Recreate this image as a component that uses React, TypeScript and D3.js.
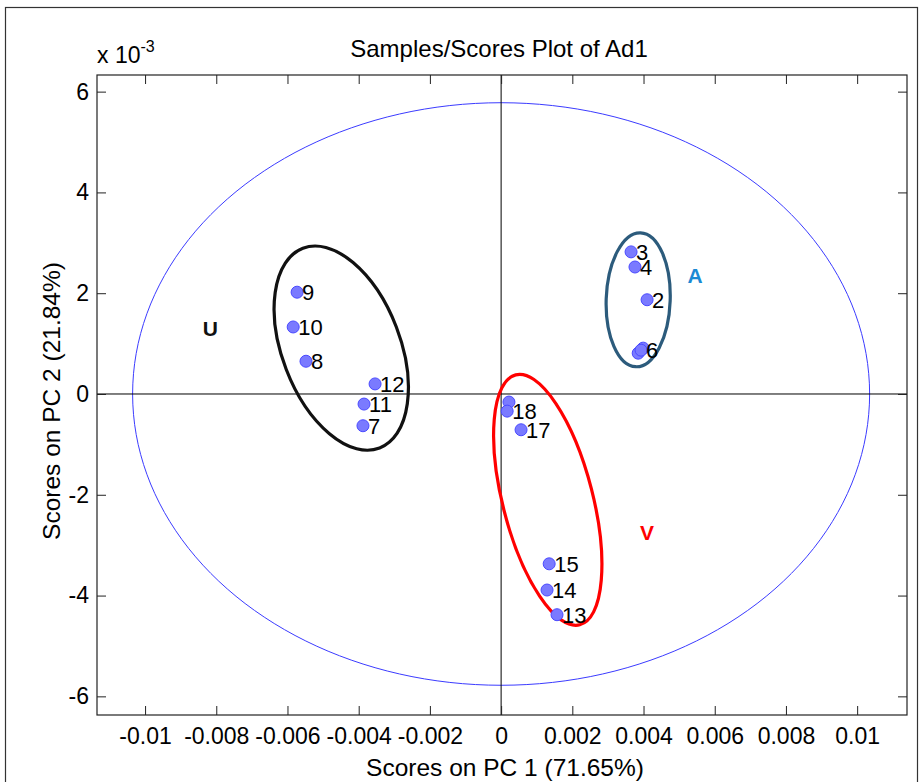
import React, { useRef, useEffect } from 'react';
import * as d3 from 'd3';

// scores (PC2 in units of 1e-3)
const sampleIds = ['1', '2', '3', '4', '5', '6', '7', '8', '9', '10', '11', '12', '13', '14', '15', '16', '17', '18'];
const pc1 = [0.00399, 0.0041, 0.00365, 0.00376, 0.00385, 0.00393, -0.00388, -0.00548, -0.00573, -0.00584, -0.00385, -0.00354, 0.00157, 0.00129, 0.00135, 0.00022, 0.00056, 0.00017];
const pc2 = [0.91, 1.87, 2.82, 2.52, 0.81, 0.87, -0.63, 0.65, 2.02, 1.33, -0.2, 0.2, -4.38, -3.89, -3.37, -0.16, -0.71, -0.34];
// labels hidden under other samples in the original
const showLabel = [false, true, true, true, false, true, true, true, true, true, true, true, true, true, true, false, true, true];

const xTicks = [-0.01, -0.008, -0.006, -0.004, -0.002, 0, 0.002, 0.004, 0.006, 0.008, 0.01];
const yTicks = [-6, -4, -2, 0, 2, 4, 6];

// 95% limit ellipse
const limitRx = 0.01035;
const limitRy = 5.78;

// class groups drawn by hand
const groupNames = ['U', 'A', 'V'];
const groupCx = [-0.00449, 0.00385, 0.00131];
const groupCy = [0.91, 1.87, -2.1];
const groupLabelX = [-0.00817, 0.00545, 0.0041];
const groupLabelY = [1.31, 2.36, -2.74];

const W = 920;
const H = 782;
const FONT = 'Arial, "Liberation Sans", sans-serif';

const App = () => {
  const ref = useRef<SVGSVGElement>(null);

  useEffect(() => {
    const svg = d3.select(ref.current);
    svg.selectAll('*').remove();

    const left = 97, right = 907, top = 75, bottom = 715;
    const x = d3.scaleLinear().domain([-0.01135, 0.0114]).range([left, right]);
    const y = d3.scaleLinear().domain([-6.37, 6.33]).range([bottom, top]);

    // figure frame
    svg.append('rect').attr('x', 5.5).attr('y', 7.5).attr('width', 912).attr('height', 800)
      .attr('fill', 'none').attr('stroke', '#333').attr('stroke-width', 1.2);

    const g = svg.append('g');

    // limit ellipse
    const ell = d3.range(0, 361, 2).map((t) => {
      const a = (t * Math.PI) / 180;
      return [x(limitRx * Math.cos(a)), y(limitRy * Math.sin(a))] as [number, number];
    });
    g.append('path').attr('d', d3.line()(ell)).attr('fill', 'none')
      .attr('stroke', '#3b3bff').attr('stroke-width', 1);

    // zero lines
    g.append('line').attr('x1', left).attr('x2', right).attr('y1', y(0)).attr('y2', y(0))
      .attr('stroke', '#000').attr('stroke-width', 1);
    g.append('line').attr('x1', x(0)).attr('x2', x(0)).attr('y1', top).attr('y2', bottom)
      .attr('stroke', '#000').attr('stroke-width', 1);

    // axes box + ticks
    g.append('rect').attr('x', left).attr('y', top).attr('width', right - left).attr('height', bottom - top)
      .attr('fill', 'none').attr('stroke', '#222').attr('stroke-width', 1.2);

    const fmt = (d: d3.NumberValue) => (+d === 0 ? '0' : String(+(+d).toFixed(3)));
    const axB = d3.axisBottom(x).tickValues(xTicks).tickSizeInner(-9).tickSizeOuter(0).tickPadding(13).tickFormat(fmt);
    const axT = d3.axisTop(x).tickValues(xTicks).tickSizeInner(-9).tickSizeOuter(0).tickFormat(() => '');
    const axL = d3.axisLeft(y).tickValues(yTicks).tickSizeInner(-9).tickSizeOuter(0).tickPadding(8).tickFormat(fmt);
    const axR = d3.axisRight(y).tickValues(yTicks).tickSizeInner(-9).tickSizeOuter(0).tickFormat(() => '');

    [
      g.append('g').attr('transform', `translate(0,${bottom})`).call(axB),
      g.append('g').attr('transform', `translate(0,${top})`).call(axT),
      g.append('g').attr('transform', `translate(${left},0)`).call(axL),
      g.append('g').attr('transform', `translate(${right},0)`).call(axR),
    ].forEach((a) => {
      a.select('.domain').remove();
      a.selectAll('line').attr('stroke', '#222');
      a.selectAll('text').attr('font-family', FONT).attr('font-size', 23).attr('fill', '#000');
    });

    // group ellipses
    const gStroke = ['#111', '#2c5b7c', '#ff0000'];
    const gRx = [59, 32, 45];
    const gRy = [107, 67, 129];
    const gRot = [-21, 2, -14.4];
    groupNames.forEach((_, i) => {
      g.append('ellipse')
        .attr('transform', `translate(${x(groupCx[i])},${y(groupCy[i])}) rotate(${gRot[i]})`)
        .attr('rx', gRx[i]).attr('ry', gRy[i])
        .attr('fill', 'none').attr('stroke', gStroke[i]).attr('stroke-width', 3.2);
    });

    // points
    const pts = sampleIds.map((id, i) => ({ id, px: pc1[i], py: pc2[i], lab: showLabel[i] }));
    g.selectAll('circle.pt').data(pts).enter().append('circle').attr('class', 'pt')
      .attr('cx', (d) => x(d.px)).attr('cy', (d) => y(d.py)).attr('r', 6)
      .attr('fill', '#7a7aff').attr('stroke', '#4a4aff').attr('stroke-width', 1);

    g.selectAll('text.lab').data(pts.filter((d) => d.lab)).enter().append('text').attr('class', 'lab')
      .attr('x', (d) => x(d.px) + 5).attr('y', (d) => y(d.py) + 8)
      .attr('font-family', FONT).attr('font-size', 22).attr('fill', '#000')
      .text((d) => d.id);

    // group letters
    const gText = ['#111', '#1a8ad4', '#ff0000'];
    groupNames.forEach((n, i) => {
      g.append('text').attr('x', x(groupLabelX[i])).attr('y', y(groupLabelY[i]) + 8)
        .attr('text-anchor', 'middle').attr('font-family', FONT).attr('font-weight', 'bold')
        .attr('font-size', 21).attr('fill', gText[i]).text(n);
    });

    // titles
    svg.append('text').attr('x', 499).attr('y', 57).attr('text-anchor', 'middle')
      .attr('font-family', FONT).attr('font-size', 24).text('Samples/Scores Plot of Ad1');
    svg.append('text').attr('x', 505).attr('y', 776).attr('text-anchor', 'middle')
      .attr('font-family', FONT).attr('font-size', 24.5).text('Scores on PC 1 (71.65%)');
    svg.append('text').attr('transform', `translate(60,401) rotate(-90)`)
      .attr('text-anchor', 'middle').attr('font-family', FONT).attr('font-size', 24.5)
      .text('Scores on PC 2 (21.84%)');

    const ex = svg.append('text').attr('x', 97).attr('y', 63).attr('font-family', FONT).attr('font-size', 23);
    ex.append('tspan').text('x 10');
    ex.append('tspan').attr('dy', -11).attr('font-size', 16).text('-3');
  }, []);

  return (
    <svg ref={ref} width={W} height={H} style={{ position: 'absolute', left: 0, top: 0, background: '#fff' }} />
  );
};

export default App;
